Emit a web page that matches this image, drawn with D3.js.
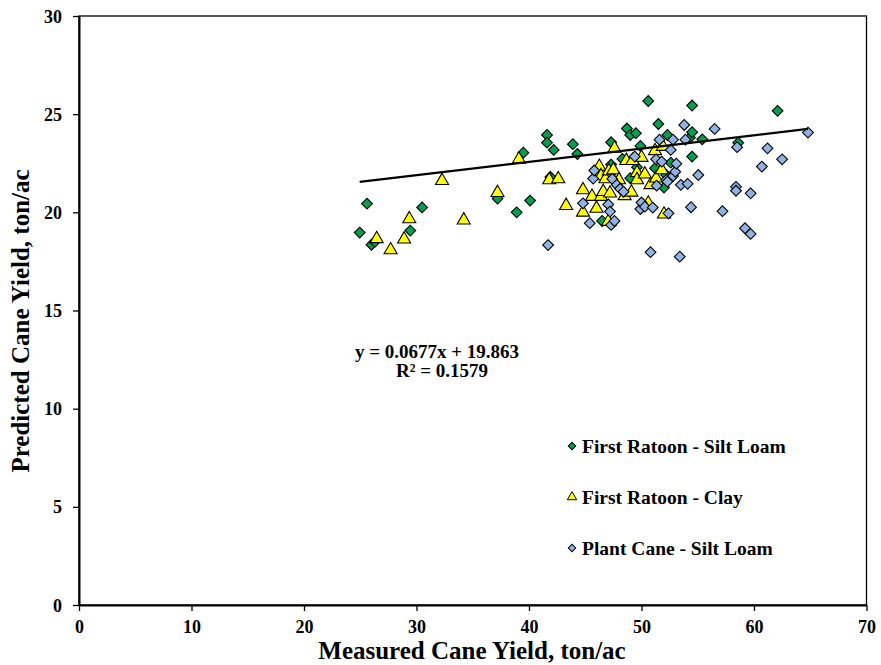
<!DOCTYPE html>
<html>
<head>
<meta charset="utf-8">
<script src="https://cdn.jsdelivr.net/npm/d3@7"></script>
<style>
  body { margin: 0; background: #fff; }
  text { font-family: "Liberation Serif", "Times New Roman", serif; font-weight: bold; fill: #000; }
</style>
</head>
<body>
<svg id="chart" width="881" height="665"></svg>
<script>
// measured vs predicted cane yield, ton/ac
var ratoon_silt = [
  [24.95,18.97],[25.6,20.44],[26.0,18.35],[26.3,18.5],[29.45,19.07],[30.5,20.25],
  [37.2,20.7],[38.9,20.0],[39.5,23.04],[40.1,20.6],[41.6,23.94],[41.6,23.55],
  [41.9,21.8],[42.2,23.18],[43.9,23.47],[44.3,22.97],[46.5,19.56],[47.3,23.57],
  [47.3,22.43],[48.3,22.72],[48.7,24.27],[49.0,23.94],[49.5,24.03],[49.0,21.74],
  [49.6,22.3],[49.9,23.38],[50.6,25.67],[51.2,22.25],[51.5,24.5],[52.0,21.26],
  [52.2,21.9],[52.3,23.94],[52.6,22.53],[54.3,23.8],[54.5,25.44],[54.5,24.08],
  [54.5,22.84],[55.4,23.72],[58.6,23.55],[62.1,25.17]
];
var ratoon_clay = [
  [26.46,18.65],[27.7,18.08],[28.9,18.63],[29.36,19.66],[32.27,21.61],[34.2,19.6],
  [37.2,21.0],[39.1,22.7],[41.8,21.65],[42.6,21.7],[43.3,20.34],[44.8,21.14],
  [44.8,20.0],[45.6,20.8],[46.0,20.2],[46.25,22.33],[46.4,21.85],[46.4,20.8],
  [46.6,21.05],[46.8,21.7],[47.1,22.1],[47.5,22.16],[47.2,20.97],[47.05,19.53],
  [47.6,23.26],[48.0,21.65],[48.5,20.84],[48.65,22.63],[49.1,21.02],[49.2,22.63],
  [49.6,22.02],[49.6,21.65],[50.0,22.79],[50.3,21.94],[50.6,20.46],[50.8,21.4],
  [51.2,23.13],[51.3,21.74],[51.8,22.16],[51.9,23.35],[52.0,19.9]
];
var plant_silt = [
  [41.7,18.33],[44.8,20.46],[45.4,19.45],[45.7,21.72],[45.8,22.13],[47.05,20.4],
  [47.2,20.04],[47.3,19.36],[47.6,19.56],[47.4,21.7],[47.8,21.4],[48.1,21.2],
  [48.4,21.05],[49.4,22.84],[49.9,20.17],[50.0,20.5],[50.3,20.29],[50.8,17.97],
  [51.0,20.24],[51.3,22.7],[51.35,21.36],[51.6,23.7],[51.8,22.58],[52.2,21.65],
  [52.3,21.56],[52.4,19.95],[52.6,23.18],[52.8,21.85],[52.8,23.7],[53.0,22.07],
  [53.1,22.48],[53.4,17.74],[53.5,21.4],[53.8,24.45],[53.9,23.7],[54.1,21.45],
  [54.4,20.26],[55.05,21.9],[56.5,24.25],[57.2,20.06],[58.4,21.3],[58.4,21.1],
  [58.5,23.32],[59.2,19.19],[59.7,18.9],[59.7,20.97],[60.7,22.33],[61.2,23.26],
  [62.5,22.7],[64.8,24.06]
];
var series_names = ['First Ratoon - Silt Loam', 'First Ratoon - Clay', 'Plant Cane - Silt Loam'];
var x_ticks = [0, 10, 20, 30, 40, 50, 60, 70];
var y_ticks = [0, 5, 10, 15, 20, 25, 30];
var trend = {slope: 0.0677, intercept: 19.863, r2: 0.1579, x_from: 24.95, x_to: 64.8};

var svg = d3.select('#chart');
var padding = {top: 16, left: 79, right: 14.5, bottom: 60};
var width = 881, height = 665;

var x_scale = d3.scaleLinear().domain([0, 70]).range([padding.left, width - padding.right]);
var y_scale = d3.scaleLinear().domain([0, 30]).range([height - padding.bottom, padding.top]);

// frame
svg.append('rect')
  .attr('x', x_scale(0)).attr('y', y_scale(30))
  .attr('width', x_scale(70) - x_scale(0)).attr('height', y_scale(0) - y_scale(30))
  .attr('fill', 'none').attr('stroke', '#000').attr('stroke-width', 1.3);

var x_axis = svg.append('g').attr('transform', 'translate(0,' + y_scale(0) + ')')
  .call(d3.axisBottom(x_scale).tickValues(x_ticks).tickSize(6).tickSizeOuter(0).tickPadding(9));
var y_axis = svg.append('g').attr('transform', 'translate(' + x_scale(0) + ',0)')
  .call(d3.axisLeft(y_scale).tickValues(y_ticks).tickSize(6).tickSizeOuter(0).tickPadding(11));

[x_axis, y_axis].forEach(function(ax){
  ax.select('.domain').attr('stroke', '#000').attr('stroke-width', 2);
  ax.selectAll('.tick line').attr('stroke', '#000').attr('stroke-width', 1.3);
  ax.selectAll('.tick text').style('font-family', '"Liberation Serif", serif')
    .style('font-weight', 'bold').style('font-size', '18px').attr('fill', '#000');
});
y_axis.selectAll('.tick text').attr('dy', '0.34em');

// axis titles
svg.append('text').attr('x', 472).attr('y', 659).attr('text-anchor', 'middle')
  .style('font-size', '25px').text('Measured Cane Yield, ton/ac');
svg.append('text').attr('transform', 'translate(29,321) rotate(-90)').attr('text-anchor', 'middle')
  .style('font-size', '25px').text('Predicted Cane Yield, ton/ac');

var diamond = d3.symbol().type(d3.symbolSquare).size(58);
var triangle = d3.symbol().type(d3.symbolTriangle).size(74);

function draw_points(data, sym, fill, rotate){
  svg.append('g').selectAll('path').data(data).enter().append('path')
    .attr('d', sym)
    .attr('transform', function(d){
      return 'translate(' + x_scale(d[0]) + ',' + y_scale(d[1]) + ')' + (rotate ? ' rotate(45)' : '');
    })
    .attr('fill', fill).attr('stroke', '#000').attr('stroke-width', 1.1);
}

var colors = ['#00a04f', '#ffff00', '#8fb4e3'];
draw_points(ratoon_silt, diamond, colors[0], true);
draw_points(ratoon_clay, triangle, colors[1], false);
draw_points(plant_silt, diamond, colors[2], true);

// linear trend line
var line = d3.line().x(function(d){ return x_scale(d); })
  .y(function(d){ return y_scale(trend.slope * d + trend.intercept); });
svg.append('path').datum([trend.x_from, trend.x_to]).attr('d', line)
  .attr('fill', 'none').attr('stroke', '#000').attr('stroke-width', 2.2);

svg.append('text').attr('x', 437).attr('y', 358).attr('text-anchor', 'middle')
  .style('font-size', '19px').text('y = ' + trend.slope + 'x + ' + trend.intercept);
svg.append('text').attr('x', 442).attr('y', 377).attr('text-anchor', 'middle')
  .style('font-size', '19px').text('R\u00b2 = ' + trend.r2);

// legend
var legend_syms = [
  d3.symbol().type(d3.symbolSquare).size(28),
  d3.symbol().type(d3.symbolTriangle).size(38),
  d3.symbol().type(d3.symbolSquare).size(28)
];
var legend = svg.append('g');
series_names.forEach(function(name, i){
  var y = 446 + i * 51;
  legend.append('path').attr('d', legend_syms[i])
    .attr('transform', 'translate(572,' + y + ')' + (i === 1 ? '' : ' rotate(45)'))
    .attr('fill', colors[i]).attr('stroke', '#000').attr('stroke-width', 1);
  legend.append('text').attr('x', 582).attr('y', y + 6.5)
    .style('font-size', '19.5px').text(name);
});
</script>
</body>
</html>
